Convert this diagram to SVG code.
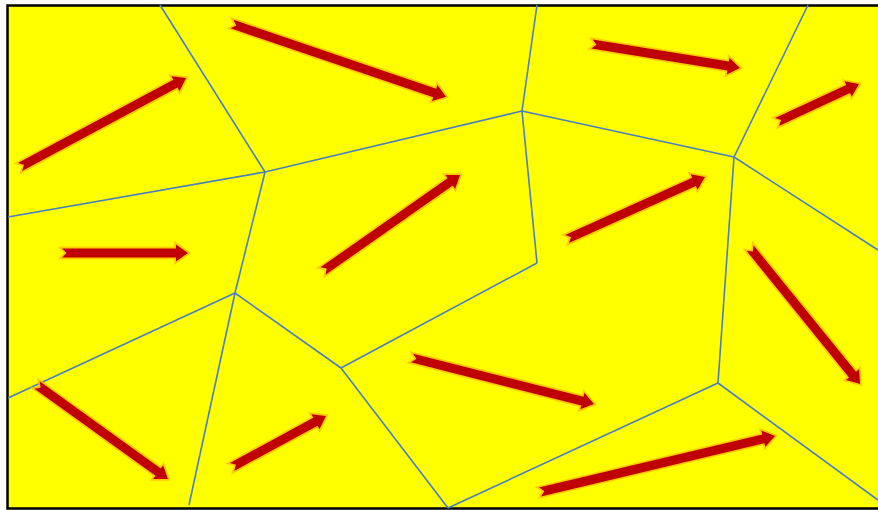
<svg xmlns="http://www.w3.org/2000/svg" width="878" height="510" viewBox="0 0 878 510">
<style>
.edge{fill:none;stroke:#4A7EC0;stroke-width:1.6}
.arr{fill:#C00000;stroke:#FFC000;stroke-width:3.5;stroke-opacity:0.85;stroke-linejoin:miter;paint-order:stroke}
</style>
<rect x="0" y="0" width="878" height="510" fill="#FFFFFF"/>
<rect id="field" x="7.5" y="5.5" width="900" height="503" fill="#FFFF00" stroke="#000" stroke-width="2.5"/>
<g id="connectors">
<line class="edge" x1="160" y1="5" x2="265" y2="172"/>
<line class="edge" x1="265" y1="172" x2="8" y2="217"/>
<line class="edge" x1="265" y1="172" x2="522" y2="111"/>
<line class="edge" x1="522" y1="111" x2="537" y2="5"/>
<line class="edge" x1="522" y1="111" x2="734" y2="157"/>
<line class="edge" x1="734" y1="157" x2="808" y2="5"/>
<line class="edge" x1="734" y1="157" x2="878" y2="250"/>
<line class="edge" x1="522" y1="111" x2="537" y2="263"/>
<line class="edge" x1="265" y1="172" x2="235" y2="293"/>
<line class="edge" x1="235" y1="293" x2="8" y2="398"/>
<line class="edge" x1="235" y1="293" x2="189" y2="505"/>
<line class="edge" x1="235" y1="293" x2="341" y2="368"/>
<line class="edge" x1="341" y1="368" x2="537" y2="263"/>
<line class="edge" x1="341" y1="368" x2="448" y2="508"/>
<line class="edge" x1="448" y1="508" x2="718" y2="383"/>
<line class="edge" x1="718" y1="383" x2="734" y2="157"/>
<line class="edge" x1="718" y1="383" x2="878" y2="500"/>
</g>
<g id="arrow1" transform="translate(20,167) rotate(-28.2)"><path class="arr" d="M0,-4.5 H176.4 V-8.5 L188.4,0 L176.4,8.5 V4.5 H0 L4.5,0 Z"/></g>
<g id="arrow2" transform="translate(232,24) rotate(18.8)"><path class="arr" d="M0,-4.5 H214.1 V-8.5 L226.1,0 L214.1,8.5 V4.5 H0 L4.5,0 Z"/></g>
<g id="arrow3" transform="translate(592,44) rotate(9.2)"><path class="arr" d="M0,-4.5 H137.9 V-8.5 L149.9,0 L137.9,8.5 V4.5 H0 L4.5,0 Z"/></g>
<g id="arrow4" transform="translate(777,122) rotate(-24.9)"><path class="arr" d="M0,-4.5 H78.4 V-8.5 L90.4,0 L78.4,8.5 V4.5 H0 L4.5,0 Z"/></g>
<g id="arrow5" transform="translate(62,253)"><path class="arr" d="M0,-4.5 H114 V-8.5 L126,0 L114,8.5 V4.5 H0 L4.5,0 Z"/></g>
<g id="arrow6" transform="translate(323,271) rotate(-35)"><path class="arr" d="M0,-4.5 H155.3 V-8.5 L167.3,0 L155.3,8.5 V4.5 H0 L4.5,0 Z"/></g>
<g id="arrow7" transform="translate(567,239) rotate(-24.2)"><path class="arr" d="M0,-4.5 H139.3 V-8.5 L151.3,0 L139.3,8.5 V4.5 H0 L4.5,0 Z"/></g>
<g id="arrow8" transform="translate(750,248) rotate(51)"><path class="arr" d="M0,-4.5 H162.9 V-8.5 L174.9,0 L162.9,8.5 V4.5 H0 L4.5,0 Z"/></g>
<g id="arrow9" transform="translate(37,385) rotate(35.7)"><path class="arr" d="M0,-4.5 H149.2 V-8.5 L161.2,0 L149.2,8.5 V4.5 H0 L4.5,0 Z"/></g>
<g id="arrow10" transform="translate(232,467) rotate(-28.5)"><path class="arr" d="M0,-4.5 H94.9 V-8.5 L106.9,0 L94.9,8.5 V4.5 H0 L4.5,0 Z"/></g>
<g id="arrow11" transform="translate(412,358) rotate(14.2)"><path class="arr" d="M0,-4.5 H175.7 V-8.5 L187.7,0 L175.7,8.5 V4.5 H0 L4.5,0 Z"/></g>
<g id="arrow12" transform="translate(540,492) rotate(-13.4)"><path class="arr" d="M0,-4.5 H229.6 V-8.5 L241.6,0 L229.6,8.5 V4.5 H0 L4.5,0 Z"/></g>
</svg>
